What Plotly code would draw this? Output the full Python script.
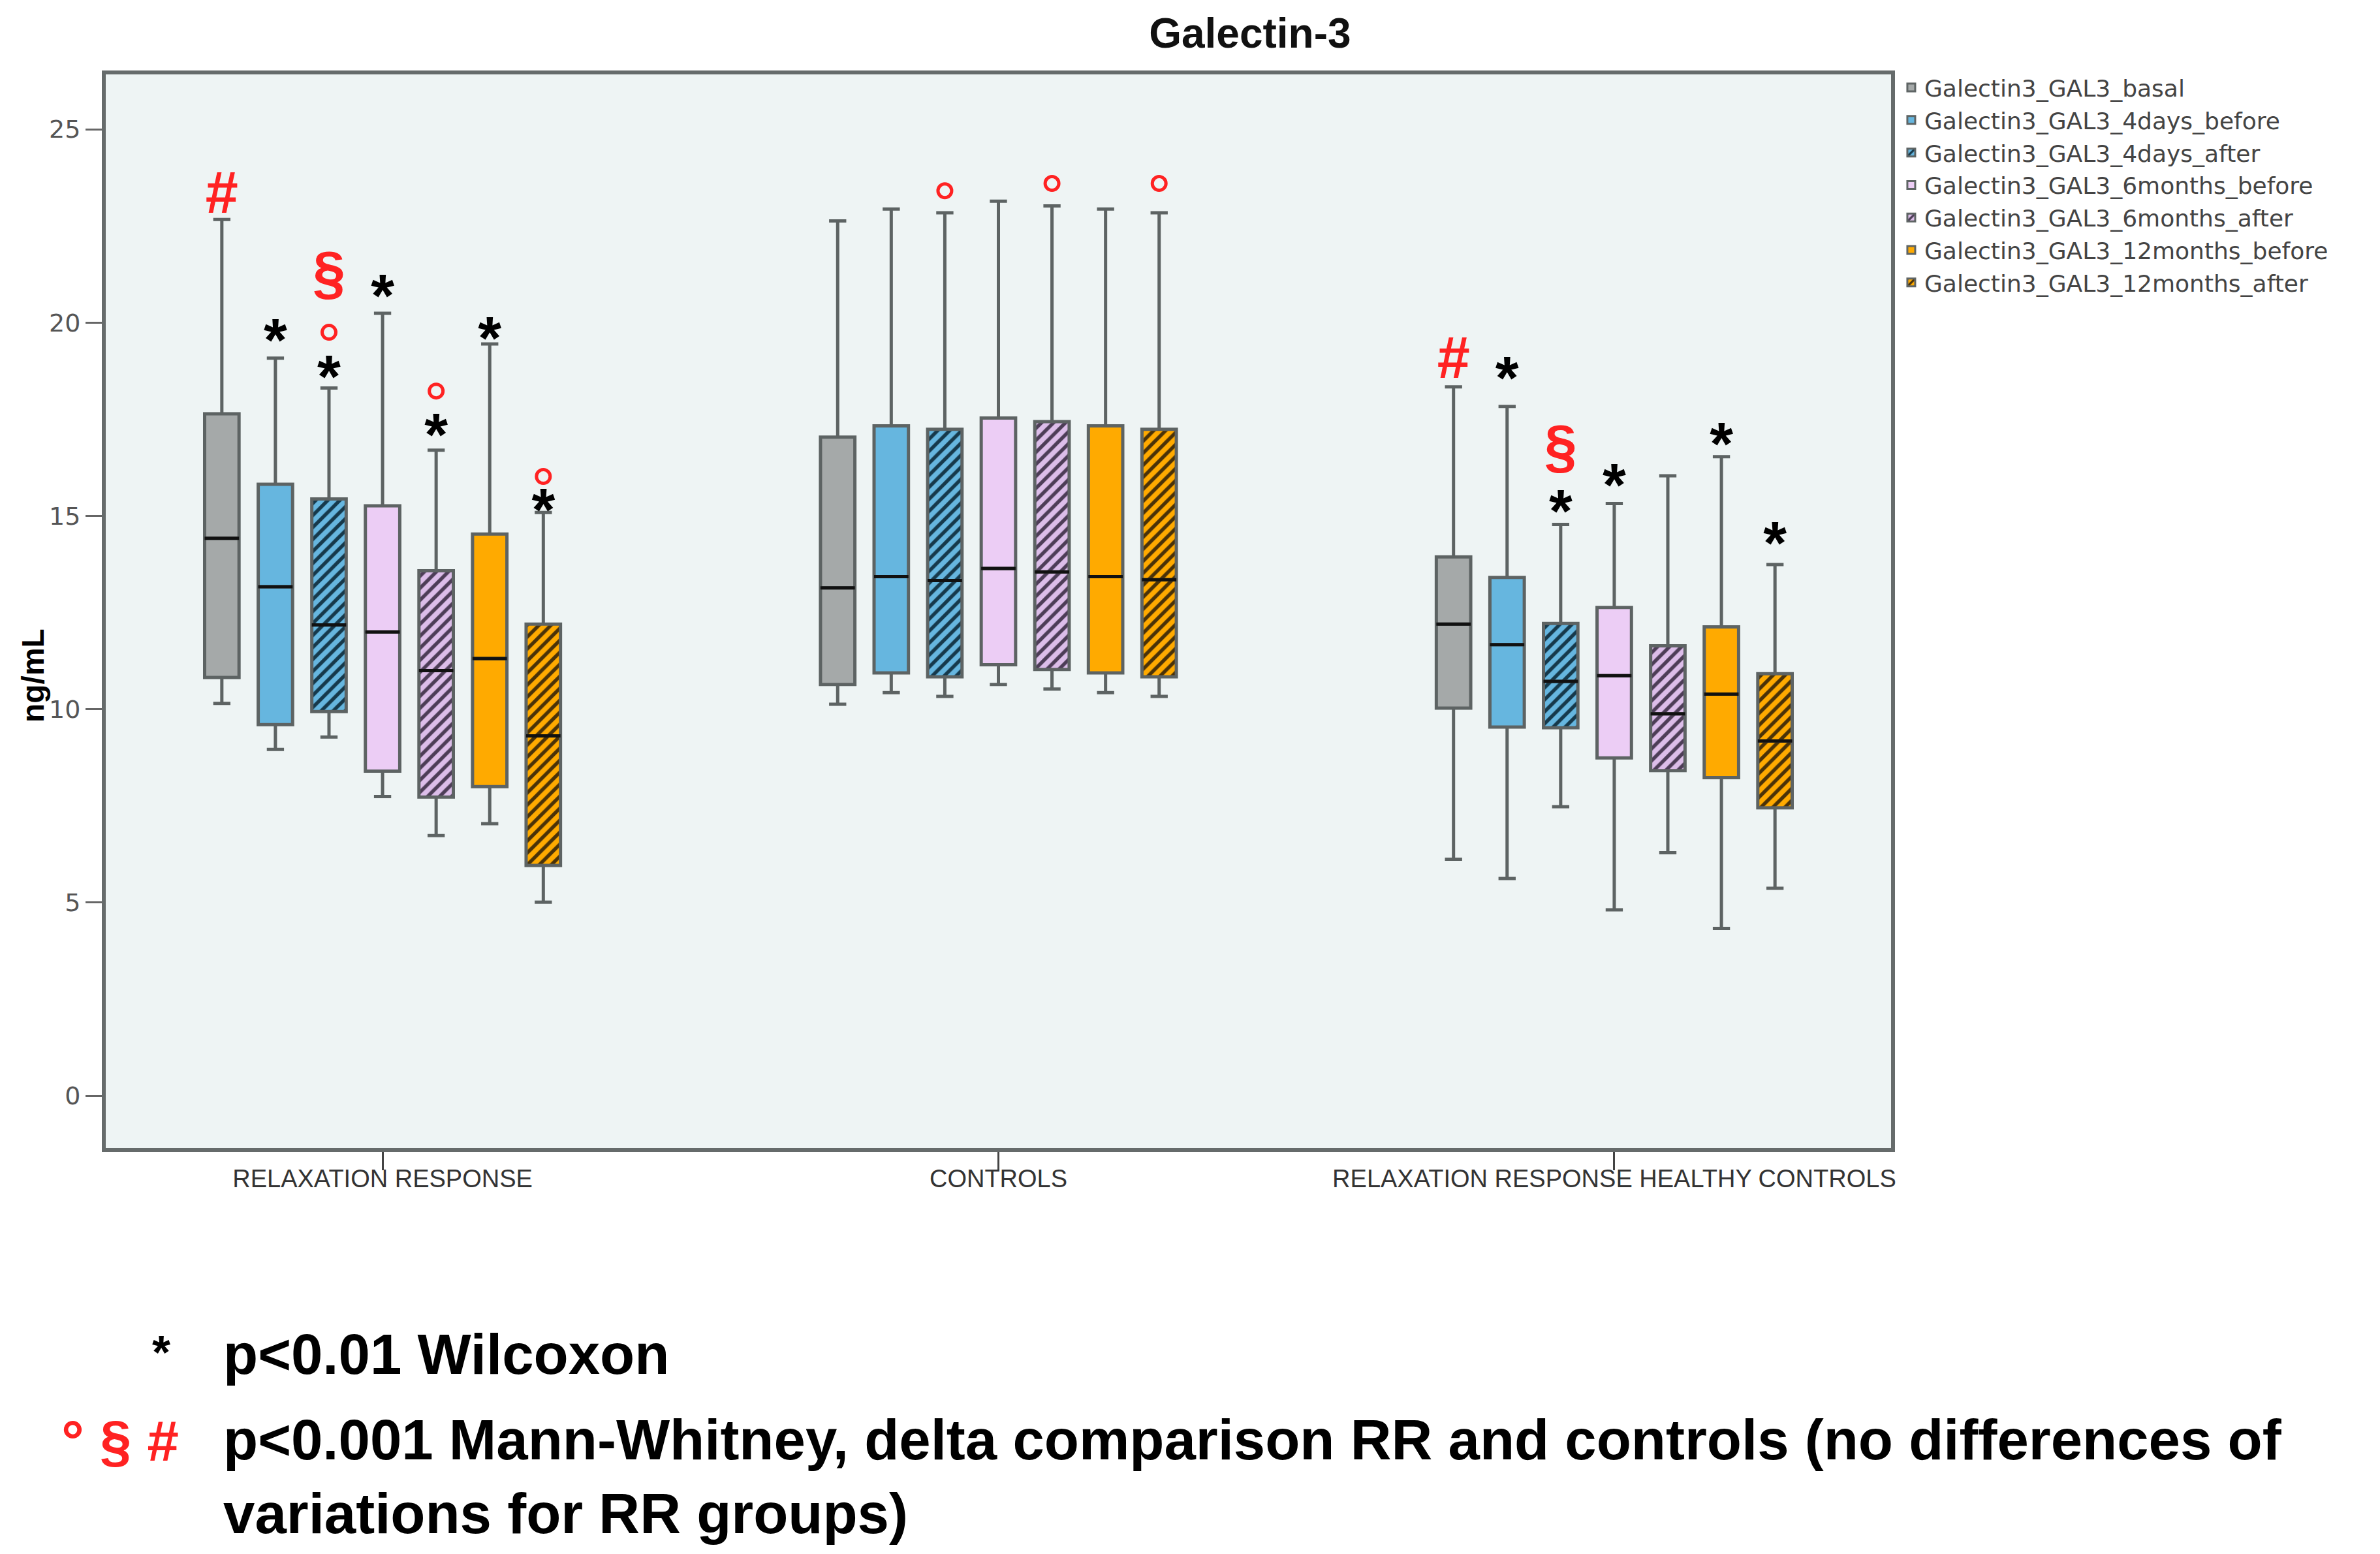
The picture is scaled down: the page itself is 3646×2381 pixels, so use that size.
import plotly.graph_objects as go

# ---------------- data ----------------
groups = ["RELAXATION RESPONSE", "CONTROLS", "RELAXATION RESPONSE HEALTHY CONTROLS"]

series_names = [
    "Galectin3_GAL3_basal",
    "Galectin3_GAL3_4days_before",
    "Galectin3_GAL3_4days_after",
    "Galectin3_GAL3_6months_before",
    "Galectin3_GAL3_6months_after",
    "Galectin3_GAL3_12months_before",
    "Galectin3_GAL3_12months_after",
]

# one row per series, one value per group
upper_whisker = [
    [22.67, 22.63, 18.34],
    [19.08, 22.94, 17.83],
    [18.31, 22.84, 14.78],
    [20.24, 23.14, 15.32],
    [16.70, 23.02, 16.04],
    [19.45, 22.94, 16.53],
    [15.09, 22.84, 13.74],
]
q3 = [
    [17.64, 17.04, 13.94],
    [15.82, 17.33, 13.41],
    [15.44, 17.24, 12.22],
    [15.26, 17.53, 12.63],
    [13.58, 17.44, 11.64],
    [14.53, 17.33, 12.13],
    [12.20, 17.24, 10.92],
]
median = [
    [14.42, 13.14, 12.20],
    [13.17, 13.43, 11.67],
    [12.18, 13.33, 10.72],
    [12.00, 13.64, 10.87],
    [11.00, 13.55, 9.88],
    [11.31, 13.43, 10.39],
    [9.31, 13.35, 9.18],
]
q1 = [
    [10.82, 10.64, 10.03],
    [9.60, 10.94, 9.54],
    [9.94, 10.84, 9.52],
    [8.40, 11.15, 8.74],
    [7.73, 11.03, 8.41],
    [8.00, 10.94, 8.23],
    [5.96, 10.84, 7.45],
]
lower_whisker = [
    [10.15, 10.13, 6.12],
    [8.96, 10.43, 5.62],
    [9.28, 10.33, 7.48],
    [7.74, 10.64, 4.81],
    [6.73, 10.52, 6.29],
    [7.04, 10.43, 4.33],
    [5.01, 10.33, 5.37],
]

# significance symbols: series index, group index, symbol, anchor value
sig_series = [0, 1, 2, 2, 2, 3, 4, 4, 5, 6, 6, 2, 4, 6, 0, 1, 2, 2, 3, 5, 6]
sig_group = [0, 0, 0, 0, 0, 0, 0, 0, 0, 0, 0, 1, 1, 1, 2, 2, 2, 2, 2, 2, 2]
sig_symbol = ["#", "*", "*", "°", "§", "*", "*", "°", "*", "*", "°",
              "°", "°", "°", "#", "*", "*", "§", "*", "*", "*"]
sig_value = [23.22, 19.40, 18.45, 19.75, 21.15, 20.55, 16.95, 18.23, 19.45, 15.00, 16.02,
             23.41, 23.60, 23.60, 18.95, 18.42, 14.97, 16.65, 15.65, 16.71, 14.15]

y_ticks = [0, 5, 10, 15, 20, 25]

# ---------------- styles ----------------
fill_colors = ["#a5a9a9", "#66b6df", "#66b6df", "#eccdf5", "#dcbde9", "#ffaa00", "#ffaa00"]
hatched = [False, False, True, False, True, False, True]
hatch_colors = [None, None, "#16394b", None, "#4d3d57", None, "#4a3208"]
RED = "#ff2222"
BOLD = "Liberation Sans, Arial, sans-serif"

fig = go.Figure()

# filled (and hatched) boxes as bars spanning q1..q3
for i, name in enumerate(series_names):
    pattern = dict(shape="")
    if hatched[i]:
        pattern = dict(shape="/", fillmode="replace", bgcolor=fill_colors[i],
                       fgcolor=hatch_colors[i], size=13, solidity=0.42)
    fig.add_trace(go.Bar(
        x=groups,
        y=[hi - lo for hi, lo in zip(q3[i], q1[i])],
        base=q1[i],
        name=name,
        offsetgroup=str(i),
        marker=dict(color=fill_colors[i], pattern=pattern,
                    line=dict(color="#5f6565", width=3)),
        hoverinfo="skip",
        showlegend=True,
    ))

# box outlines and whiskers
for i, name in enumerate(series_names):
    fig.add_trace(go.Box(
        x=groups,
        q1=q1[i], median=median[i], q3=q3[i],
        lowerfence=lower_whisker[i], upperfence=upper_whisker[i],
        offsetgroup=str(i),
        fillcolor="rgba(0,0,0,0)",
        line=dict(color="#5d6363", width=5),
        whiskerwidth=0.5,
        boxpoints=False,
        showlegend=False,
        hoverinfo="skip",
    ))

# black median lines
for i, name in enumerate(series_names):
    fig.add_trace(go.Box(
        x=groups,
        q1=median[i], median=median[i], q3=median[i],
        lowerfence=median[i], upperfence=median[i],
        offsetgroup=str(i),
        fillcolor="rgba(0,0,0,0)",
        line=dict(color="#111111", width=5),
        whiskerwidth=0,
        boxpoints=False,
        showlegend=False,
        hoverinfo="skip",
    ))

# significance symbols
for i in range(len(series_names)):
    idx_text = [k for k in range(len(sig_series)) if sig_series[k] == i and sig_symbol[k] != "°"]
    idx_circ = [k for k in range(len(sig_series)) if sig_series[k] == i and sig_symbol[k] == "°"]
    if idx_text:
        fig.add_trace(go.Scatter(
            x=[groups[sig_group[k]] for k in idx_text],
            y=[sig_value[k] for k in idx_text],
            text=[sig_symbol[k] for k in idx_text],
            mode="text",
            textposition="middle center",
            textfont=dict(
                family=BOLD,
                size=[92 if sig_symbol[k] == "*" else 90 for k in idx_text],
                color=["#000000" if sig_symbol[k] == "*" else RED for k in idx_text],
                weight="bold",
            ),
            offsetgroup=str(i),
            showlegend=False,
            hoverinfo="skip",
        ))
    if idx_circ:
        fig.add_trace(go.Scatter(
            x=[groups[sig_group[k]] for k in idx_circ],
            y=[sig_value[k] for k in idx_circ],
            mode="markers",
            marker=dict(symbol="circle-open", size=21, color=RED, line=dict(color=RED, width=5)),
            offsetgroup=str(i),
            showlegend=False,
            hoverinfo="skip",
        ))

fig.update_layout(
    template="none",
    width=3646, height=2381, autosize=False,
    margin=dict(l=154, r=757, t=106, b=630),
    paper_bgcolor="white",
    plot_bgcolor="#eef4f4",
    font=dict(family=BOLD, color="#333333"),
    barmode="group", bargap=0.391, bargroupgap=0.358,
    boxmode="group", boxgap=0.391, boxgroupgap=0.358,
    scattermode="group", scattergap=0.391,
    title=dict(text="<b>Galectin-3</b>", x=0.523, xref="container", xanchor="center",
               y=0.9822, yref="container", yanchor="middle",
               font=dict(size=64, color="#111111", family=BOLD)),
    xaxis=dict(
        type="category", categoryorder="array", categoryarray=groups,
        range=[-0.4495, 2.4495], automargin=False,
        showline=True, linecolor="#666b6b", linewidth=6, mirror=True,
        ticks="outside", ticklen=28, tickwidth=3, tickcolor="#444444",
        ticklabelstandoff=-20,
        tickfont=dict(size=38, color="#333333", family=BOLD),
        showgrid=False, zeroline=False,
    ),
    yaxis=dict(
        range=[-1.35, 26.42], automargin=False,
        tickvals=y_ticks, ticktext=[str(v) for v in y_ticks],
        showline=True, linecolor="#666b6b", linewidth=6, mirror=True,
        ticks="outside", ticklen=25, tickwidth=3, tickcolor="#666666",
        tickfont=dict(size=38, color="#555555", family="DejaVu Sans, sans-serif"),
        showgrid=False, zeroline=False,
    ),
    legend=dict(
        x=1.004, xanchor="left", y=1.006, yanchor="top",
        font=dict(size=36, color="#444444", family="DejaVu Sans, sans-serif"),
        bgcolor="rgba(0,0,0,0)", traceorder="normal",
    ),
)

fig.add_annotation(text="<b>ng/mL</b>", xref="paper", yref="paper", x=-0.041, y=0.44,
                   textangle=-90, showarrow=False, xanchor="center", yanchor="middle",
                   font=dict(size=48, color="#000000", family=BOLD))
fig.add_annotation(text="<b>*</b>", xref="paper", yref="paper", x=0.0312, y=-0.1905,
                   showarrow=False, xanchor="center", yanchor="middle",
                   font=dict(size=72, color="#000000", family=BOLD))
fig.add_annotation(text="<b>p<0.01 Wilcoxon</b>", xref="paper", yref="paper", x=0.065, y=-0.1915,
                   showarrow=False, xanchor="left", yanchor="middle",
                   font=dict(size=87, color="#000000", family=BOLD))
fig.add_annotation(text="<b>° § #</b>", xref="paper", yref="paper", x=0.0415, y=-0.2725,
                   showarrow=False, xanchor="right", yanchor="middle",
                   font=dict(size=87, color=RED, family=BOLD))
fig.add_annotation(text="<b>p<0.001 Mann-Whitney, delta comparison RR and controls (no differences of"
                        "<br>variations for RR groups)</b>",
                   xref="paper", yref="paper", x=0.065, y=-0.3055, align="left",
                   showarrow=False, xanchor="left", yanchor="middle",
                   font=dict(size=87, color="#000000", family=BOLD))

fig.write_html("out.html")
